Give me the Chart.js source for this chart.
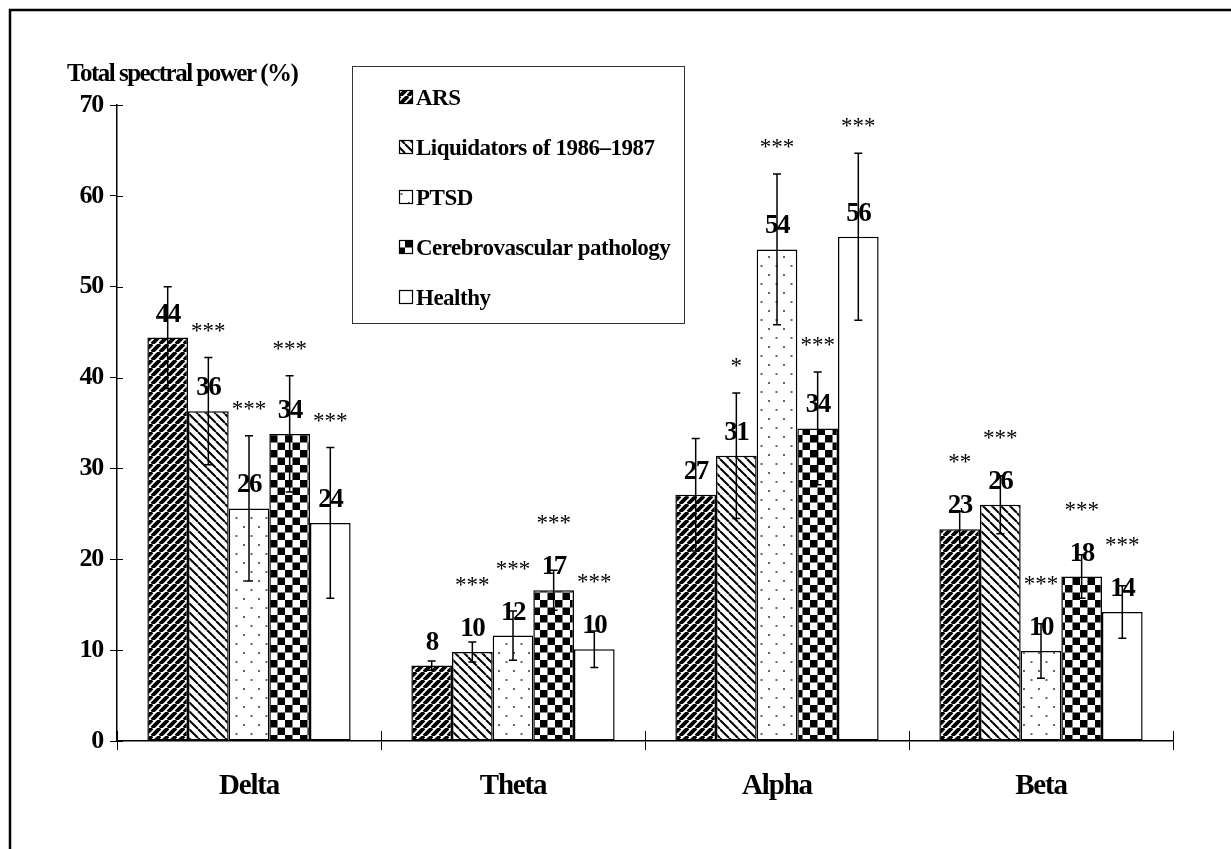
<!DOCTYPE html>
<html>
<head>
<meta charset="utf-8">
<title>Total spectral power</title>
<script src="https://cdn.jsdelivr.net/npm/chart.js@4.4.0/dist/chart.umd.min.js"></script>
<style>
  html, body { margin: 0; padding: 0; background: #fff; }
  canvas { display: block; }
</style>
</head>
<body>
<canvas id="chart" width="1231" height="849"></canvas>
<script>
// === Data ===
const categories = ["Delta", "Theta", "Alpha", "Beta"];
const seriesNames = ["ARS", "Liquidators of 1986–1987", "PTSD", "Cerebrovascular pathology", "Healthy"];

const arsValues = [44.4, 8.3, 27.1, 23.3];
const liquidatorValues = [36.3, 9.8, 31.4, 26.0];
const ptsdValues = [25.6, 11.6, 54.1, 9.9];
const cerebroValues = [33.8, 16.6, 34.4, 18.1];
const healthyValues = [24.0, 10.1, 55.5, 14.2];

const arsErrors = [5.6, 0.5, 6.2, 2.0];
const liquidatorErrors = [5.9, 1.1, 6.9, 3.2];
const ptsdErrors = [8.0, 2.7, 8.3, 3.0];
const cerebroErrors = [6.4, 2.2, 6.2, 2.4];
const healthyErrors = [8.3, 2.0, 9.2, 2.9];

const arsStars = ["", "", "", "**"];
const liquidatorStars = ["***", "***", "*", "***"];
const ptsdStars = ["***", "***", "***", "***"];
const cerebroStars = ["***", "***", "***", "***"];
const healthyStars = ["***", "***", "***", "***"];

const yMin = 0, yMax = 70, yStep = 10;

const values = [arsValues, liquidatorValues, ptsdValues, cerebroValues, healthyValues];
const errors = [arsErrors, liquidatorErrors, ptsdErrors, cerebroErrors, healthyErrors];
const stars = [arsStars, liquidatorStars, ptsdStars, cerebroStars, healthyStars];

const SERIF = "'Liberation Serif', 'Times New Roman', serif";
const canvas = document.getElementById("chart");
const ctx = canvas.getContext("2d");

// === Patterns ===
function tile(w, h, draw) {
  const c = document.createElement("canvas");
  c.width = w; c.height = h;
  const g = c.getContext("2d");
  g.fillStyle = "#fff";
  g.fillRect(0, 0, w, h);
  draw(g);
  return ctx.createPattern(c, "repeat");
}
function stripes(size, width, dir) {
  return tile(size, size, g => {
    g.strokeStyle = "#000";
    g.lineWidth = width;
    g.beginPath();
    for (let k = -1; k <= 1; k++) {
      if (dir === "/") { g.moveTo(k * size, size); g.lineTo(k * size + size, 0); }
      else { g.moveTo(k * size, 0); g.lineTo(k * size + size, size); }
    }
    g.stroke();
  });
}
const patterns = [
  stripes(8, 3.8, "/"),
  stripes(9, 2, "\\"),
  tile(15, 18, g => {
    g.fillStyle = "#666";
    g.fillRect(3, 4, 2, 2);
    g.fillRect(10.5, 13, 2, 2);
  }),
  tile(15, 15, g => {
    g.fillStyle = "#000";
    g.fillRect(0, 0, 7.5, 7.5);
    g.fillRect(7.5, 7.5, 7.5, 7.5);
  }),
  "#fff"
];

// === Extras: error bars, labels, legend, frame ===
const extras = {
  id: "extras",
  beforeDraw(chart) {
    // condensed look of the original type
    chart.ctx.letterSpacing = "-1.2px";
  },
  afterDatasetsDraw(chart) {
    const c = chart.ctx;
    const ys = chart.scales.y;
    c.save();
    values.forEach((series, i) => {
      const meta = chart.getDatasetMeta(i);
      series.forEach((v, j) => {
        const bar = meta.data[j];
        const x = bar.x;
        const top = ys.getPixelForValue(v + errors[i][j]);
        const bottom = ys.getPixelForValue(v - errors[i][j]);
        // error bar
        c.strokeStyle = "#000";
        c.lineWidth = 1.5;
        c.beginPath();
        c.moveTo(x, top); c.lineTo(x, bottom);
        c.moveTo(x - 4, top); c.lineTo(x + 4, top);
        c.moveTo(x - 4, bottom); c.lineTo(x + 4, bottom);
        c.stroke();
        // value label
        const labelCenter = bar.y - 25;
        c.fillStyle = "#000";
        c.textAlign = "center";
        c.textBaseline = "alphabetic";
        c.letterSpacing = "-1.5px";
        c.font = "bold 27px " + SERIF;
        c.fillText(String(Math.round(v)), x, labelCenter + 9);
        // significance stars
        const s = stars[i][j];
        if (s) {
          const starCenter = Math.min(top - 30, labelCenter - 45);
          c.letterSpacing = "0px";
          c.font = "23px " + SERIF;
          c.fillText(s, x, starCenter + 10);
        }
      });
    });
    c.restore();
  },
  afterDraw(chart) {
    const c = chart.ctx;
    const area = chart.chartArea;
    const ys = chart.scales.y;
    c.save();
    c.strokeStyle = "#000";
    c.lineWidth = 1;
    // inward halves of the axis ticks
    c.beginPath();
    ys.ticks.forEach(t => {
      const y = Math.round(ys.getPixelForValue(t.value)) + 0.5;
      c.moveTo(area.left, y); c.lineTo(area.left + 6, y);
    });
    const step = (area.right - area.left) / categories.length;
    for (let k = 0; k <= categories.length; k++) {
      const x = Math.round(area.left + k * step) + 0.5;
      c.moveTo(x, area.bottom); c.lineTo(x, area.bottom - 10);
    }
    c.stroke();

    // axis title
    c.fillStyle = "#000";
    c.letterSpacing = "-1.5px";
    c.font = "bold 25px " + SERIF;
    c.textAlign = "left";
    c.textBaseline = "alphabetic";
    c.fillText("Total spectral power (%)", 67, 81);

    // legend
    c.lineWidth = 1;
    c.strokeStyle = "#333";
    c.strokeRect(352.5, 66.5, 332, 257);
    c.letterSpacing = "-0.5px";
    c.font = "bold 23px " + SERIF;
    seriesNames.forEach((name, i) => {
      const cy = 97 + i * 50;
      c.fillStyle = patterns[i];
      c.fillRect(399, cy - 7, 14, 14);
      c.strokeStyle = "#000";
      c.lineWidth = 1.2;
      c.strokeRect(399.5, cy - 6.5, 13, 13);
      c.fillStyle = "#000";
      c.fillText(name, 416, cy + 7.5);
    });

    // outer frame
    c.lineWidth = 2.5;
    c.beginPath();
    c.moveTo(10, 849); c.lineTo(10, 10); c.lineTo(1231, 10);
    c.stroke();
    c.restore();
  }
};

// === Chart ===
new Chart(ctx, {
  type: "bar",
  data: {
    labels: categories,
    datasets: seriesNames.map((name, i) => ({
      label: name,
      data: values[i],
      backgroundColor: patterns[i],
      borderColor: "#000",
      borderWidth: 1.5,
      borderSkipped: false,
      categoryPercentage: 0.77,
      barPercentage: 1
    }))
  },
  options: {
    responsive: false,
    animation: false,
    events: [],
    layout: { padding: { left: 0, top: 105, right: 58, bottom: 0 } },
    plugins: { legend: { display: false }, tooltip: { enabled: false } },
    scales: {
      x: {
        grid: { drawOnChartArea: false, tickLength: 9, color: "#000", lineWidth: 1, offset: true },
        border: { color: "#000", width: 1.5 },
        ticks: { color: "#000", padding: 19, font: { family: SERIF, size: 29, weight: "bold" } },
        afterFit(s) { s.height = 108; }
      },
      y: {
        min: yMin,
        max: yMax,
        grid: { drawOnChartArea: false, tickLength: 7, color: "#000", lineWidth: 1 },
        border: { color: "#000", width: 1.5 },
        ticks: { stepSize: yStep, color: "#000", padding: 7, font: { family: SERIF, size: 26, weight: "bold" } },
        afterFit(s) { s.width = 117; }
      }
    }
  },
  plugins: [extras]
});
</script>
</body>
</html>
